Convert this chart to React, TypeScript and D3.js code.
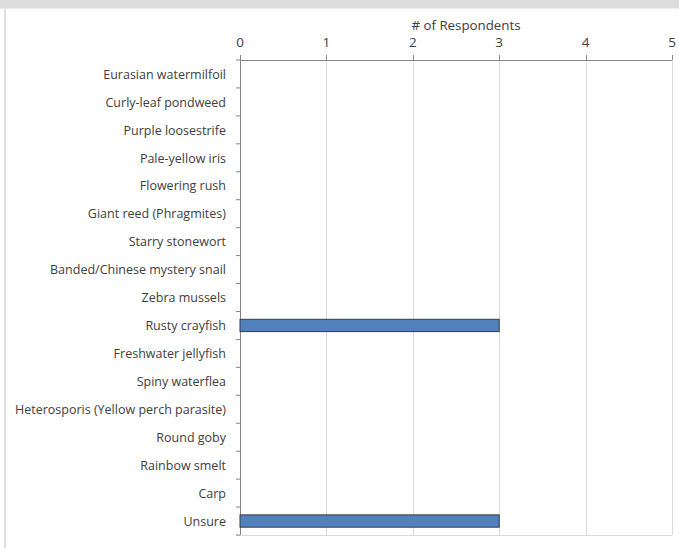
import React from "react";
import * as d3 from "d3";

const categories = [
  "Eurasian watermilfoil",
  "Curly-leaf pondweed",
  "Purple loosestrife",
  "Pale-yellow iris",
  "Flowering rush",
  "Giant reed (Phragmites)",
  "Starry stonewort",
  "Banded/Chinese mystery snail",
  "Zebra mussels",
  "Rusty crayfish",
  "Freshwater jellyfish",
  "Spiny waterflea",
  "Heterosporis (Yellow perch parasite)",
  "Round goby",
  "Rainbow smelt",
  "Carp",
  "Unsure",
];
const values = [0, 0, 0, 0, 0, 0, 0, 0, 0, 3, 0, 0, 0, 0, 0, 0, 3];
const xTicks = [0, 1, 2, 3, 4, 5];
const axisTitle = "# of Respondents";

const W = 679;
const H = 548;
const left = 240;
const right = 672;
const top = 60;
const bottom = 535;
const font = "'Open Sans', 'Liberation Sans', sans-serif";

export default function App() {
  const x = d3.scaleLinear().domain([0, 5]).range([left, right]);
  const y = d3.scaleBand<string>().domain(categories).range([top, bottom]).paddingInner(0.56).paddingOuter(0.28);
  const step = (bottom - top) / categories.length;
  return (
    <svg width={W} height={H} style={{ position: "absolute", left: 0, top: 0 }}>
      <rect x={0} y={0} width={W} height={H} fill="#fff" />
      <rect x={0} y={0} width={W} height={8.5} fill="#dcdcdc" />
      <line x1={5} x2={5} y1={8.5} y2={H} stroke="#c8c8c8" strokeWidth={1.2} />
      {xTicks.slice(1).map((t) => (
        <line key={"g" + t} x1={Math.round(x(t)) + 0.5} x2={Math.round(x(t)) + 0.5} y1={top} y2={bottom} stroke="#d9d9d9" />
      ))}
      <line x1={236} x2={right} y1={bottom + 0.5} y2={bottom + 0.5} stroke="#d9d9d9" />
      <line x1={left} x2={right} y1={top + 0.5} y2={top + 0.5} stroke="#868686" />
      {xTicks.map((t) => (
        <g key={"t" + t}>
          <line x1={Math.round(x(t)) + 0.5} x2={Math.round(x(t)) + 0.5} y1={55} y2={top} stroke="#868686" />
          <text x={x(t)} y={47} textAnchor="middle" fontFamily={font} fontSize={13.5} fill="#404040">{t}</text>
        </g>
      ))}
      <text x={466} y={30} textAnchor="middle" fontFamily={font} fontSize={13.3} fill="#404040">{axisTitle}</text>
      <line x1={left + 0.5} x2={left + 0.5} y1={top} y2={bottom} stroke="#868686" />
      {d3.range(categories.length + 1).map((i) => (
        <line key={"c" + i} x1={236} x2={left} y1={top + i * step} y2={top + i * step} stroke="#868686" />
      ))}
      {categories.map((c, i) => (
        <text key={c} x={226} y={(y(c) as number) + y.bandwidth() / 2} dy="0.38em" textAnchor="end" fontFamily={font} fontSize={12.5} fill="#404040">{c}</text>
      ))}
      {categories.map((c, i) =>
        values[i] > 0 ? (
          <rect key={"b" + c} x={x(0)} y={y(c)} width={x(values[i]) - x(0)} height={y.bandwidth()} fill="#4f81bd" stroke="#3a3a3a" strokeWidth={1} />
        ) : null
      )}
    </svg>
  );
}
